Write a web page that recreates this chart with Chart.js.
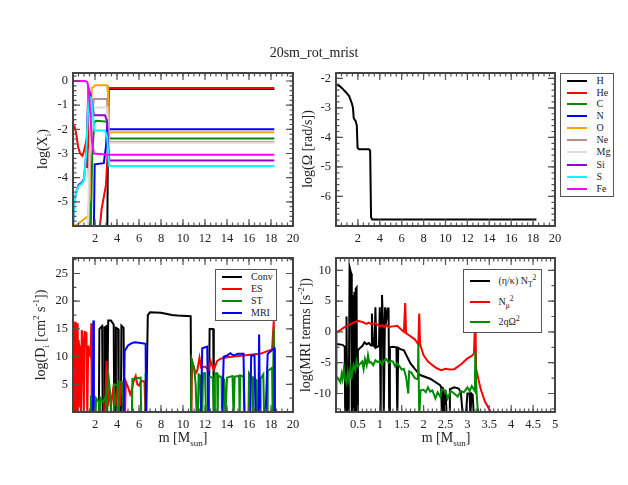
<!DOCTYPE html>
<html>
<head>
<meta charset="utf-8">
<title>20sm_rot_mrist</title>
<script src="https://cdn.jsdelivr.net/npm/chart.js@4"></script>
<style>
  html, body { margin: 0; padding: 0; background: #fff; }
  #page { position: relative; width: 628px; height: 485px; overflow: hidden; font-family: "Liberation Serif", serif; color: #222; }
  canvas { position: absolute; }
  .txt { position: absolute; white-space: nowrap; font-size: 14px; line-height: 16px; transform: translate(-50%, -50%); }
  .txt.rot { transform: translate(-50%, -50%) rotate(-90deg); }
  sub, sup { font-size: 9px; line-height: 0; }
  .legend { position: absolute; background: #fff; border: 1.5px solid #555; box-sizing: border-box; }
  .legend i { position: absolute; height: 2px; }
  .legend span { position: absolute; white-space: nowrap; font-size: 10px; line-height: 12px; transform: translateY(-50%); }
  .legend sub, .legend sup { font-size: 7.5px; }
</style>
</head>
<body>
<div id="page"></div>
<script>
// mass coordinate ticks and value ticks
const massTicks = [0, 2, 4, 6, 8, 10, 12, 14, 16, 18, 20];
const coreTicks = [0, 0.5, 1, 1.5, 2, 2.5, 3, 3.5, 4, 4.5, 5];
const abundTicks = [-6, -5, -4, -3, -2, -1, 0];
const omegaTicks = [-7, -6, -5, -4, -3, -2];
const diffTicks = [0, 5, 10, 15, 20, 25];
const mriTicks = [-10, -5, 0, 5, 10];

// log(X_i) per element, [m, value]
const xiNames = ['H', 'He', 'C', 'N', 'O', 'Ne', 'Mg', 'Si', 'S', 'Fe'];
const xiH = [[0, -6.5], [3.05, -6.5], [3.12, -6], [3.22, -0.33], [18.3, -0.33]];
const xiHe = [[0, -2], [0.15, -1.9], [0.3, -2.2], [0.45, -2.7], [0.65, -3], [0.85, -3.1], [1, -2.9], [1.15, -2.6], [1.25, -3.6], [1.35, -1.4], [1.45, -4.2], [1.55, -6.5], [2.4, -6.5], [2.45, -6], [2.6, -5.3], [3, -4.3], [3.15, -3], [3.25, -0.29], [18.3, -0.29]];
const xiC = [[0, -6.5], [1.42, -6.5], [1.5, -5], [1.62, -6], [1.75, -3], [1.95, -1.7], [2.1, -1.65], [3.05, -1.68], [3.15, -1.9], [3.3, -2.38], [18.3, -2.38]];
const xiN = [[0, -6.5], [1.8, -6.5], [1.9, -6], [1.97, -3.45], [2.8, -3.4], [3, -2.7], [3.1, -1.9], [3.22, -2], [18.3, -2]];
const xiO = [[0, -5.9], [0.2, -6], [1.35, -5.6], [1.5, -4.8], [1.6, -2], [1.7, -0.3], [1.85, -0.25], [2, -0.18], [3.1, -0.18], [3.18, -0.5], [3.25, -2.12], [18.3, -2.12]];
const xiNe = [[0, -6.5], [1.4, -6.5], [1.55, -3], [1.7, -1.5], [1.9, -0.75], [3.1, -0.75], [3.25, -2.52], [18.3, -2.52]];
const xiMg = [[0, -6.5], [1.35, -6.2], [1.5, -3], [1.7, -1.8], [1.9, -1.1], [3.1, -1.1], [3.25, -2.56], [18.3, -2.56]];
const xiSi = [[0, -6], [0.1, -5], [0.3, -4.6], [0.5, -4.3], [0.8, -4.2], [1, -4.05], [1.2, -3], [1.4, -0.3], [1.6, -0.55], [1.75, -1], [1.9, -1.42], [2.9, -1.42], [3.1, -1.65], [3.2, -2.6], [3.3, -3.29], [18.3, -3.29]];
const xiS = [[0, -6], [0.12, -5], [0.3, -4.6], [0.5, -4.35], [0.8, -4.25], [1, -4.1], [1.2, -3], [1.42, -0.6], [1.65, -0.7], [1.8, -1.4], [1.95, -2.05], [2.9, -2.05], [3.1, -2.3], [3.2, -3], [3.3, -3.52], [18.3, -3.52]];
const xiFe = [[0, 0], [1.1, 0], [1.2, -0.03], [1.3, -0.05], [1.42, -0.35], [1.6, -1.5], [1.72, -2.5], [1.9, -3], [3.3, -3.05], [18.3, -3.05]];

// log(Omega), [m, value]
const omegaCurve = [[0, -2.22], [0.3, -2.25], [0.6, -2.35], [0.9, -2.47], [1.2, -2.6], [1.45, -2.85], [1.55, -3], [1.62, -3.35], [1.8, -3.45], [1.9, -3.6], [1.97, -4.35], [2.1, -4.4], [3, -4.4], [3.12, -4.45], [3.2, -6.7], [3.3, -6.78], [18.3, -6.78]];

// log(D_i), [m, value]; -1 means off the bottom of the panel
const diffNames = ['Conv', 'ES', 'ST', 'MRI'];
const dConv = [[0, -1], [2.35, -1], [2.4, 15], [2.65, 15.5], [2.7, -1], [2.85, -1], [2.9, 15.3], [3.05, 15.5], [3.1, -1], [3.15, -1], [3.2, 16.5], [3.45, 16.5], [3.7, 15.8], [3.75, -1], [3.85, -1], [3.9, 15.2], [4.1, 15], [4.15, -1], [4.35, -1], [4.4, 15.6], [4.6, 15.2], [4.65, -1], [6.65, -1], [6.8, 17.5], [7, 18], [8, 17.9], [9, 17.5], [9.5, 17.4], [10.7, 17.3], [10.75, -1], [12.35, -1], [12.42, 15], [12.75, 15], [12.8, -1], [18.3, -1]];
const dES = [[0, -1], [0.03, 16.3], [0.06, -1], [0.09, 16.2], [0.11, -1], [0.14, 16], [0.17, -1], [0.2, 16.3], [0.23, -1], [0.26, 16.1], [0.29, -1], [0.32, 15.8], [0.35, -1], [0.38, 16], [0.41, -1], [0.44, 15.9], [0.47, 1], [0.5, 13], [0.54, 12.5], [0.58, 12], [0.65, 11], [0.72, -1], [0.8, 14.8], [0.9, 12], [0.98, -1], [1.05, 14.6], [1.15, 13], [1.22, 14.5], [1.3, -1], [1.38, 12], [1.5, 10.5], [1.6, 10], [1.66, 16], [1.7, -1], [1.8, 8], [1.85, -1], [2.9, -1], [3.05, 9.2], [3.15, 1], [3.3, 4], [3.45, 1], [3.7, 5], [3.85, 1], [4.1, 5.2], [4.25, 1], [4.4, 5.6], [4.6, 2], [4.72, -1], [4.8, 5.5], [5, 4.5], [5.2, 3.2], [5.35, 4], [5.5, 5.5], [5.7, 6.5], [5.85, 5], [6, 4.8], [6.2, 5.6], [6.5, 5.5], [6.6, -1], [10.75, -1], [10.83, 9.2], [11, 8], [11.15, 7], [11.3, 7.5], [11.5, 9.8], [11.65, 8], [12, 8.2], [12.35, 7.6], [12.5, 9.2], [12.8, 7.6], [13.1, 9.2], [13.4, 9.6], [14, 9.9], [15.5, 10.2], [17, 10.5], [18.1, 11.3], [18.25, 16.4], [18.32, -1]];
const dST = [[0, -1], [1.55, -1], [1.62, 3], [1.75, -1], [2.05, -1], [2.1, 2.5], [2.35, 1.8], [2.42, -1], [2.5, 2.5], [2.75, 1.8], [3, 3], [3.05, -1], [3.1, 4], [3.25, 6], [3.4, 3], [3.45, -1], [3.7, -1], [3.75, 5], [4.1, 4.8], [4.15, -1], [4.2, 5.5], [4.5, 5.3], [4.55, -1], [5.35, -1], [5.4, 6], [6.15, 6.2], [6.2, -1], [6.55, -1], [6.6, 7], [6.65, -1], [10.72, -1], [10.78, 9.5], [11, 8], [11.15, 5], [11.25, -1], [11.35, -1], [11.42, 6.8], [11.55, 6.6], [11.65, -1], [11.75, -1], [11.82, 7], [12, 7], [12.1, -1], [12.3, -1], [12.35, 6.4], [12.7, 6.2], [12.82, -1], [12.9, 7], [13.1, 7], [13.15, -1], [13.2, 6.6], [13.5, 6.2], [13.55, -1], [13.62, 6.2], [13.75, 5.8], [13.85, -1], [14, 6.2], [14.5, 6.5], [14.6, -1], [14.7, 6.4], [15.1, 6.5], [15.15, -1], [15.2, 6.6], [15.5, 6.4], [15.58, -1], [15.95, -1], [16, 7], [16.3, 6], [16.35, -1], [16.4, 6.2], [16.65, 5.8], [16.7, -1], [17, -1], [17.05, 6], [17.3, 6.8], [17.38, -1], [17.65, -1], [17.7, 7.4], [18.1, 8], [18.15, -1], [18.25, 15], [18.32, -1]];
const dMRI = [[0, -1], [1.8, -1], [1.85, 16.5], [1.9, -1], [4.6, -1], [4.7, 11], [5, 12], [5.3, 12.4], [5.6, 12.6], [6, 12.5], [6.6, 12.3], [6.65, -1], [11.62, -1], [11.75, 11.5], [12.2, 11.8], [12.3, -1], [13.55, -1], [13.7, 10], [14, 10.2], [14.3, 10.6], [14.6, 10.2], [15, 10.5], [15.5, 10.5], [15.6, -1], [16.1, -1], [16.2, 10.2], [16.5, 10.2], [16.6, -1], [16.85, -1], [16.92, 14], [17, -1], [17.5, -1], [17.7, 10.5], [18, 11], [18.3, 11.5], [18.35, -1]];

// MRI terms, [m, value]; -14 means off the bottom of the panel
const mriNames = ['(&eta;/&kappa;) N<sub>T</sub><sup>2</sup>', 'N<sub>&mu;</sub><sup>2</sup>', '2q&Omega;<sup>2</sup>'];
const mriThermal = [[0, -2], [0.05, -2], [0.15, -2.1], [0.2, -2.4], [0.21, -14], [0.23, -14], [0.24, 2.5], [0.26, -14], [0.29, -14], [0.31, 10.5], [0.345, 9.5], [0.36, -14], [0.38, 6], [0.4, -14], [0.42, 6.5], [0.44, -14], [0.45, 7], [0.47, 7.2], [0.48, -14], [0.5, -3], [0.55, -2.6], [0.6, -2.3], [0.65, -1.7], [0.7, -2], [0.75, -1.8], [0.8, -2.2], [0.82, 3], [0.84, -2], [0.88, -2.4], [0.9, 4], [0.92, -2.5], [0.98, -2.3], [1, 4], [1.02, -14], [1.03, 3], [1.05, 6], [1.07, 2], [1.09, -14], [1.12, 4], [1.15, 2], [1.18, 3.8], [1.2, 3.8], [1.215, -14], [1.23, -2.5], [1.3, -2.4], [1.38, -2.5], [1.4, -14], [1.42, -2.6], [1.47, -2.8], [1.55, -3], [1.7, -5.1], [1.8, -6], [1.92, -7], [2.15, -7.6], [2.37, -8.6], [2.4, -8.9], [2.42, -14], [2.44, -9], [2.47, -14], [2.5, -9.5], [2.53, -14], [2.58, -14], [2.6, -9.3], [2.7, -9], [2.8, -9.2], [2.85, -9.8], [2.9, -14], [2.96, -14], [3, -10], [3.05, -10], [3.07, -14], [3.09, -10], [3.12, -10.2], [3.15, -14], [3.22, -14], [3.24, -12.5], [3.26, -14]];
const mriChem = [[0, -10], [0.01, 0], [0.05, 0.1], [0.1, 0.3], [0.2, 0.8], [0.3, 1.1], [0.4, 1.5], [0.5, 1.8], [0.6, 1.6], [0.7, 1.3], [0.75, 1.5], [0.8, 1.3], [0.9, 1.4], [1, 0.9], [1.05, 1.1], [1.1, 0.8], [1.15, 1.2], [1.2, 0.8], [1.3, 0.9], [1.4, 1], [1.5, 0.3], [1.55, 0], [1.58, 4.7], [1.6, -0.2], [1.7, -0.7], [1.8, -1.2], [1.88, -2], [1.9, 3], [1.92, -2], [2, -3.8], [2.1, -4.8], [2.2, -5.4], [2.3, -5.9], [2.4, -6.2], [2.5, -6], [2.6, -6.1], [2.7, -6.05], [2.85, -5.3], [3, -4.3], [3.1, -3.9], [3.15, -3.5], [3.18, 3], [3.2, -6], [3.3, -9.2], [3.4, -11.3], [3.55, -13.2]];
const mriShear = [[0, -7.2], [0.05, -7.6], [0.1, -8.2], [0.13, -6.8], [0.15, -7.6], [0.18, -6], [0.2, -7.5], [0.24, -8.3], [0.27, -6.6], [0.3, -8], [0.33, -6], [0.36, -7.2], [0.4, -5.4], [0.44, -6.2], [0.47, -4.8], [0.5, -5.6], [0.55, -5.2], [0.6, -4.8], [0.63, -6], [0.66, -4.4], [0.7, -5.4], [0.73, -3.8], [0.76, -5], [0.8, -4.9], [0.85, -5.4], [0.9, -4.6], [0.95, -4.9], [1, -4.7], [1.05, -5.3], [1.1, -4.6], [1.15, -4.4], [1.2, -5], [1.25, -4.7], [1.3, -4.8], [1.35, -5.6], [1.4, -5.1], [1.45, -5.6], [1.5, -6.1], [1.55, -6], [1.6, -7.3], [1.65, -10], [1.67, -6.4], [1.72, -6.6], [1.8, -7.5], [1.87, -7.7], [1.88, -2], [1.9, -14], [1.93, -9.5], [2, -9.4], [2.05, -9.8], [2.1, -9], [2.15, -9.7], [2.2, -9.5], [2.27, -10.8], [2.32, -9.8], [2.38, -10.5], [2.42, -9.3], [2.5, -9.5], [2.55, -10.8], [2.62, -9.6], [2.7, -10], [2.78, -10.5], [2.85, -9.6], [2.92, -9.8], [3, -9], [3.05, -9.6], [3.1, -8.8], [3.17, -9.6], [3.18, -3.2], [3.21, -10], [3.25, -14]];

const xiColors = ['#000000', '#ff0000', '#008b00', '#0000ff', '#ffa500', '#bc8f8f', '#dcdcdc', '#9400d3', '#00ffff', '#ff00ff'];
const diffColors = ['#000000', '#ff0000', '#008b00', '#0000ff'];
const mriColors = ['#000000', '#ff0000', '#008b00'];

const page = document.getElementById('page');

// xmgrace style frame: ticks point inward on all four sides
const frameTicks = {
    id: 'frameTicks',
    afterDraw(chart, args, opts) {
        const { ctx, chartArea: a, scales: { x, y } } = chart;
        const mark = (px, isX, len) => {
            ctx.beginPath();
            if (isX) {
                ctx.moveTo(px, a.bottom); ctx.lineTo(px, a.bottom - len);
                ctx.moveTo(px, a.top); ctx.lineTo(px, a.top + len);
            } else {
                ctx.moveTo(a.left, px); ctx.lineTo(a.left + len, px);
                ctx.moveTo(a.right, px); ctx.lineTo(a.right - len, px);
            }
            ctx.stroke();
        };
        ctx.save();
        ctx.strokeStyle = '#555';
        ctx.lineWidth = 1.2;
        for (const [scale, step, isX] of [[x, opts.minorX, true], [y, opts.minorY, false]]) {
            const n = Math.round((scale.max - scale.min) / step);
            const first = Math.ceil(scale.min / step);
            for (let i = first; i <= first + n; i++) {
                const v = i * step;
                if (v >= scale.min && v <= scale.max) mark(scale.getPixelForValue(v), isX, 3.5);
            }
            scale.ticks.forEach(t => mark(scale.getPixelForValue(t.value), isX, 7));
        }
        ctx.lineWidth = 2;
        ctx.strokeStyle = '#444';
        ctx.strokeRect(a.left, a.top, a.right - a.left, a.bottom - a.top);
        ctx.restore();
    }
};

// one canvas per panel, the chart area is pinned through afterFit
function makePanel(box, cfg) {
    const ml = 42, mr = 12, mt = 6, mb = 24;
    const canvas = document.createElement('canvas');
    canvas.width = box.right - box.left + ml + mr;
    canvas.height = box.bottom - box.top + mt + mb;
    canvas.style.left = (box.left - ml) + 'px';
    canvas.style.top = (box.top - mt) + 'px';
    page.appendChild(canvas);

    const fontOpt = { family: '"Liberation Serif", serif', size: 12.5 };
    new Chart(canvas.getContext('2d'), {
        type: 'scatter',
        data: {
            datasets: cfg.series.map((pts, i) => ({
                data: pts,
                showLine: true,
                borderColor: cfg.colors[i],
                borderWidth: 2,
                pointRadius: 0,
                tension: 0,
                order: cfg.series.length - i // later series on top, as in the reference
            }))
        },
        options: {
            responsive: false,
            animation: false,
            devicePixelRatio: 1,
            layout: { padding: { top: mt, right: mr, left: 0, bottom: 0 } },
            plugins: {
                legend: { display: false },
                tooltip: { enabled: false },
                frameTicks: { minorX: cfg.minorX, minorY: cfg.minorY }
            },
            scales: {
                x: {
                    type: 'linear',
                    min: cfg.xMin, max: cfg.xMax,
                    grid: { display: false, drawTicks: false },
                    border: { display: false },
                    afterBuildTicks: s => { s.ticks = cfg.xTicks.map(v => ({ value: v })); },
                    afterFit: s => { s.height = mb; s.paddingLeft = 0; s.paddingRight = 0; },
                    ticks: {
                        color: '#222', font: fontOpt, padding: 5, maxRotation: 0, autoSkip: false,
                        callback: v => (v === cfg.xHide ? '' : String(v))
                    }
                },
                y: {
                    min: cfg.yMin, max: cfg.yMax,
                    grid: { display: false, drawTicks: false },
                    border: { display: false },
                    afterBuildTicks: s => { s.ticks = cfg.yTicks.map(v => ({ value: v })); },
                    afterFit: s => { s.width = ml; s.paddingTop = 0; s.paddingBottom = 0; },
                    ticks: {
                        color: '#222', font: fontOpt, padding: 5, autoSkip: false,
                        callback: v => (v === cfg.yHide ? '' : String(v))
                    }
                }
            }
        },
        plugins: [frameTicks]
    });
}

function addText(html, x, y, rotated) {
    const d = document.createElement('div');
    d.className = rotated ? 'txt rot' : 'txt';
    d.style.left = x + 'px';
    d.style.top = y + 'px';
    d.innerHTML = html;
    page.appendChild(d);
}

function addLegend(box, names, colors, rowY, lineX, textX) {
    const d = document.createElement('div');
    d.className = 'legend';
    d.style.left = box.left + 'px';
    d.style.top = box.top + 'px';
    d.style.width = (box.right - box.left) + 'px';
    d.style.height = (box.bottom - box.top) + 'px';
    names.forEach((name, i) => {
        const line = document.createElement('i');
        line.style.left = (lineX - box.left) + 'px';
        line.style.width = '20px';
        line.style.top = (rowY[i] - box.top - 2) + 'px';
        line.style.background = colors[i];
        d.appendChild(line);
        const label = document.createElement('span');
        label.style.left = (textX - box.left) + 'px';
        label.style.top = (rowY[i] - box.top - 1) + 'px';
        label.innerHTML = name;
        d.appendChild(label);
    });
    page.appendChild(d);
}

makePanel({ left: 73, right: 293, top: 73, bottom: 226 }, {
    series: [xiH, xiHe, xiC, xiN, xiO, xiNe, xiMg, xiSi, xiS, xiFe], colors: xiColors,
    xMin: 0, xMax: 20, yMin: -6, yMax: 0.33, xTicks: massTicks, yTicks: abundTicks,
    xHide: 0, yHide: -6, minorX: 0.5, minorY: 0.2
});
makePanel({ left: 336, right: 555, top: 73, bottom: 226 }, {
    series: [omegaCurve], colors: ['#000000'],
    xMin: 0, xMax: 20, yMin: -7, yMax: -1.82, xTicks: massTicks, yTicks: omegaTicks,
    xHide: 0, yHide: -7, minorX: 0.5, minorY: 0.2
});
makePanel({ left: 73, right: 293, top: 258, bottom: 412 }, {
    series: [dConv, dES, dST, dMRI], colors: diffColors,
    xMin: 0, xMax: 20, yMin: 0, yMax: 27.8, xTicks: massTicks, yTicks: diffTicks,
    xHide: 0, yHide: 0, minorX: 0.5, minorY: 2.5
});
makePanel({ left: 336, right: 555, top: 258, bottom: 412 }, {
    series: [mriThermal, mriChem, mriShear], colors: mriColors,
    xMin: 0, xMax: 5, yMin: -13, yMax: 12, xTicks: coreTicks, yTicks: mriTicks,
    xHide: 0, yHide: null, minorX: 0.1, minorY: 2.5
});

addText('20sm_rot_mrist', 314, 53);
addText('log(X<sub>i</sub>)', 43, 149, true);
addText('log(&Omega; [rad/s])', 308, 149, true);
addText('log(D<sub>i</sub> [cm<sup>2</sup> s<sup>-1</sup>])', 41, 335, true);
addText('log(MRI terms [s<sup>-2</sup>])', 306, 335, true);
addText('m [M<sub>sun</sub>]', 183, 438);
addText('m [M<sub>sun</sub>]', 446, 438);

addLegend({ left: 560, right: 614, top: 73, bottom: 197 }, xiNames, xiColors,
    [81, 92.5, 104, 116, 128, 140, 152, 165, 177, 189], 566, 595.5);
addLegend({ left: 215, right: 277, top: 269, bottom: 321 }, diffNames, diffColors,
    [277, 289, 301, 312.5], 221, 250);
addLegend({ left: 463, right: 542, top: 269, bottom: 333 }, mriNames, mriColors,
    [281, 301.5, 321.5], 469, 497.5);
</script>
</body>
</html>
